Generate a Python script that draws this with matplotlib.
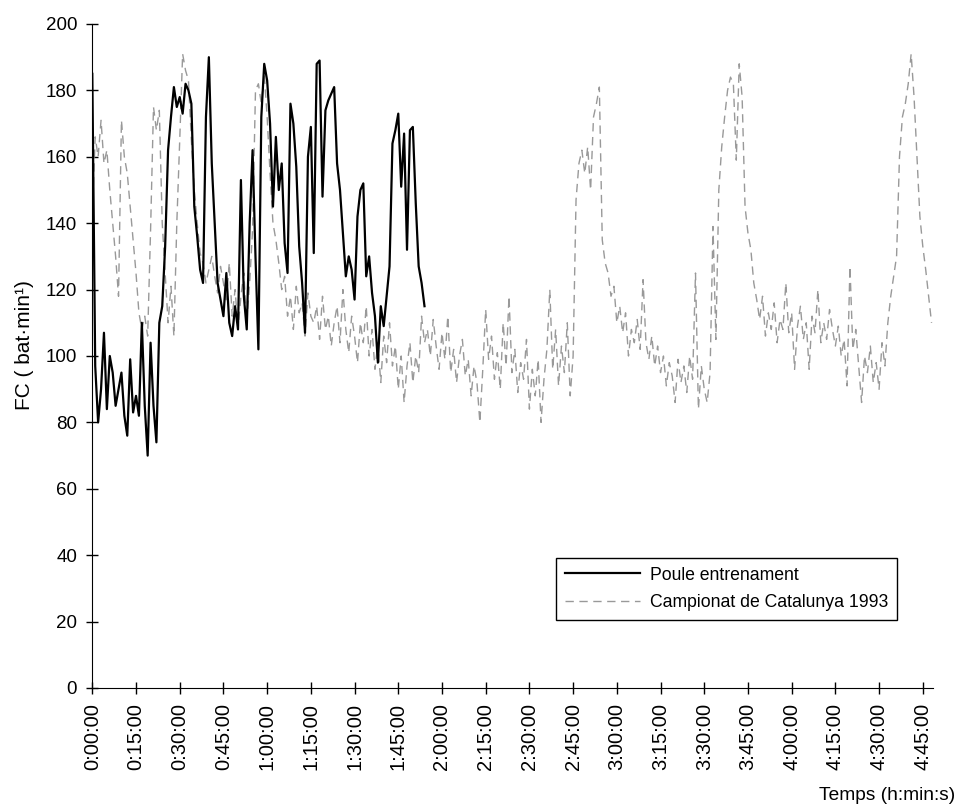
import numpy as np
import matplotlib
matplotlib.use("Agg")
import matplotlib.pyplot as plt

plt.rcParams['font.family'] = ['Liberation Sans', 'DejaVu Sans']

# heart rate (bat/min), one value per minute
poule = [185, 97, 80, 90, 107, 84, 100, 95, 85, 90,
         95, 82, 76, 99, 83, 88, 82, 110, 85, 70,
         104, 85, 74, 110, 115, 133, 162, 172, 181, 175,
         178, 173, 182, 180, 176, 145, 136, 126, 122, 172,
         190, 158, 140, 122, 117, 112, 125, 110, 106, 115,
         108, 153, 118, 108, 140, 162, 130, 102, 172, 188,
         183, 170, 145, 166, 150, 158, 134, 125, 176, 170,
         157, 133, 122, 107, 160, 169, 131, 188, 189, 148,
         174, 177, 179, 181, 158, 150, 137, 124, 130, 126,
         117, 142, 150, 152, 124, 130, 119, 112, 98, 115,
         109, 118, 127, 164, 168, 173, 151, 167, 132, 168,
         169, 146, 127, 122, 115]

campionat = [143, 166, 160, 171, 158, 162, 150, 140, 130, 118,
             171, 160, 155, 145, 135, 125, 113, 108, 112, 106,
             138, 175, 168, 174, 140, 125, 110, 121, 106, 140,
             165, 191, 186, 183, 165, 150, 140, 131, 128, 122,
             126, 130, 124, 119, 127, 122, 116, 128, 112, 120,
             108, 118, 125, 110, 122, 138, 180, 182, 176, 185,
             172, 155, 140, 135, 128, 120, 124, 112, 118, 108,
             121, 113, 116, 106, 119, 112, 110, 115, 105, 118,
             108, 112, 103, 110, 115, 104, 120, 108, 101, 112,
             106, 98, 110, 104, 115, 100, 108, 96, 104, 92,
             106, 98, 110, 97, 103, 90, 100, 86, 97, 104,
             92, 100, 95, 112, 104, 108, 100, 111, 103, 96,
             107, 99, 112, 95, 102, 92, 100, 105, 94, 99,
             88, 97, 92, 80, 96, 114, 99, 106, 93, 101,
             90, 110, 97, 118, 95, 102, 89, 98, 93, 105,
             84, 96, 88, 99, 80, 93, 102, 120, 96, 108,
             91, 103, 95, 110, 88, 100, 147, 158, 162, 155,
             163, 150, 172, 176, 181, 135, 128, 125, 118, 121,
             110, 115, 107, 113, 100, 108, 104, 111, 102, 123,
             104, 99, 106, 97, 103, 95, 100, 91, 98, 94,
             86, 99, 92, 97, 89, 100, 93, 125, 84, 97,
             90, 86, 95, 139, 105, 150, 163, 172, 180, 184,
             182, 159, 188, 178, 145, 137, 132, 122, 117, 111,
             118, 106, 113, 108, 116, 104, 111, 108, 122, 107,
             113, 96, 109, 115, 105, 110, 96, 112, 107, 120,
             104, 110, 105, 114, 108, 103, 109, 100, 105, 91,
             127, 102, 108, 97, 86, 100, 95, 103, 92, 98,
             90, 104, 97, 110, 118, 124, 130, 160, 172, 176,
             182, 191, 178, 160, 142, 133, 126, 118, 110]

tick_minutes = list(range(0, 286, 15))
tick_labels = ['%d:%02d:00' % (m // 60, m % 60) for m in tick_minutes]

fig = plt.figure(figsize=(9.62, 8.07), dpi=100)
ax = fig.add_axes([92.3 / 962, (807 - 688) / 807, 840.7 / 962, 664 / 807])

t1 = np.arange(len(poule))
t2 = np.arange(len(campionat))
ax.plot(t2, campionat, color='#999999', lw=1.0, ls=(0, (6, 4)),
        label='Campionat de Catalunya 1993')
ax.plot(t1, poule, color='black', lw=1.6, label='Poule entrenament')

ax.set_xlim(0, 288.5)
ax.set_ylim(0, 200)
ax.set_yticks(range(0, 201, 20))
ax.set_xticks(tick_minutes)
ax.set_xticklabels(tick_labels, rotation=90)
ax.tick_params(direction='inout', length=9, width=1, pad=6.5)
ax.tick_params(axis='y', labelsize=13.5)
ax.tick_params(axis='x', labelsize=14.5)
for s in ['top', 'right']:
    ax.spines[s].set_visible(False)

ax.set_ylabel('FC ( bat·min¹)', fontsize=15)
ax.yaxis.set_label_coords(-0.0693, 0.5166)
fig.text(955 / 962, 1 - 795 / 807, 'Temps (h:min:s)', ha='right', va='center', fontsize=13.8)

h, l = ax.get_legend_handles_labels()
leg = ax.legend(h[::-1], l[::-1], loc='lower left', bbox_to_anchor=(0.5516, 0.1024),
                borderaxespad=0, fontsize=12.7, handlelength=4.25, handletextpad=0.55,
                labelspacing=0.6, fancybox=False, framealpha=1, edgecolor='black',
                borderpad=0.5)
leg.get_frame().set_linewidth(1.0)

fig.savefig('out.png', dpi=100)
